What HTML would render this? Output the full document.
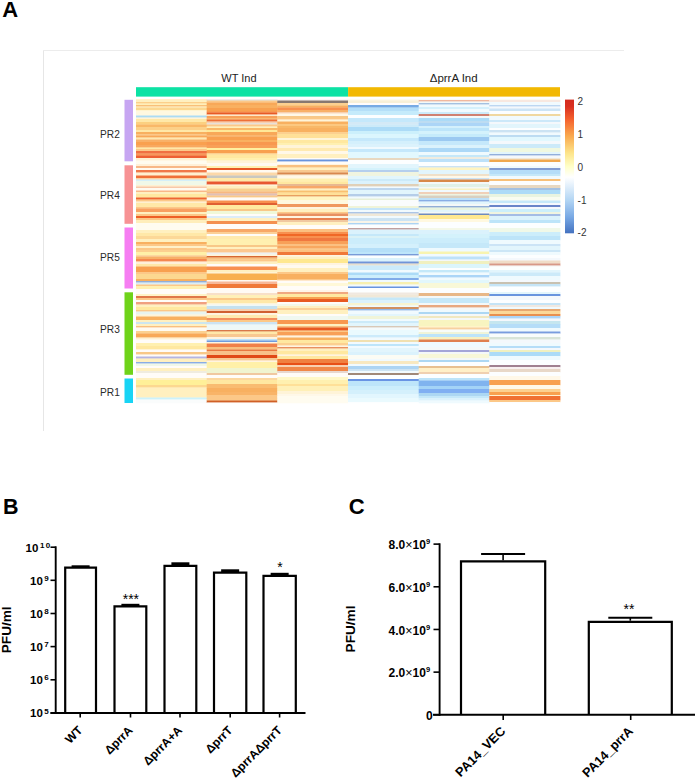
<!DOCTYPE html>
<html><head><meta charset="utf-8"><style>
html,body{margin:0;padding:0;background:#fff;}
svg{display:block;font-family:"Liberation Sans", sans-serif;}
</style></head><body>
<svg width="696" height="780" viewBox="0 0 696 780">
<text x="2.3" y="16.8" font-size="22" font-weight="bold">A</text>
<text x="3" y="514.2" font-size="21.5" font-weight="bold">B</text>
<text x="348.8" y="514.3" font-size="22" font-weight="bold">C</text>
<line x1="43.5" y1="50" x2="43.5" y2="431" stroke="#e6e6e6" stroke-width="1"/>
<line x1="43" y1="50.5" x2="624" y2="50.5" stroke="#ececec" stroke-width="1"/>
<rect x="136" y="87.2" width="212.1" height="9.4" fill="#0ce2a4"/>
<rect x="348.1" y="87.2" width="211.9" height="9.4" fill="#f2b802"/>
<text x="239" y="82.3" text-anchor="middle" font-size="11" fill="#222">WT Ind</text>
<text x="453.7" y="81.8" text-anchor="middle" font-size="11.5" fill="#222">ΔprrA Ind</text>
<rect x="124.5" y="99.8" width="8.5" height="61.500000000000014" fill="#c7a6f2"/>
<text x="100" y="138.2" font-size="11" fill="#2a2a2a" textLength="19.8" lengthAdjust="spacingAndGlyphs">PR2</text>
<rect x="124.5" y="165.3" width="8.5" height="58.5" fill="#f79294"/>
<text x="100" y="199.2" font-size="11" fill="#2a2a2a" textLength="19.8" lengthAdjust="spacingAndGlyphs">PR4</text>
<rect x="124.5" y="227.5" width="8.5" height="61.0" fill="#f67ef2"/>
<text x="100" y="260.5" font-size="11" fill="#2a2a2a" textLength="19.8" lengthAdjust="spacingAndGlyphs">PR5</text>
<rect x="124.5" y="292.3" width="8.5" height="82.5" fill="#6fd31a"/>
<text x="100" y="332.7" font-size="11" fill="#2a2a2a" textLength="19.8" lengthAdjust="spacingAndGlyphs">PR3</text>
<rect x="124.5" y="378.5" width="8.5" height="24.5" fill="#18d4f5"/>
<text x="100" y="395.6" font-size="11" fill="#2a2a2a" textLength="19.8" lengthAdjust="spacingAndGlyphs">PR1</text>
<defs><filter id="bl" x="0" y="-0.02" width="1" height="1.04"><feGaussianBlur stdDeviation="0 0.6"/></filter></defs>
<g filter="url(#bl)">
<rect x="136" y="99.2" width="71.1" height="3.099999999999997" fill="#fff0c0"/>
<rect x="136" y="102.0" width="71.1" height="1.8" fill="#fcd08a"/>
<rect x="136" y="103.5" width="71.1" height="1.8" fill="#ffefb8"/>
<rect x="136" y="105.0" width="71.1" height="1.8" fill="#f9c078"/>
<rect x="136" y="106.5" width="71.1" height="1.3" fill="#fff0c0"/>
<rect x="136" y="107.5" width="71.1" height="2.8" fill="#fcd890"/>
<rect x="136" y="110.0" width="71.1" height="1.3" fill="#fff4d0"/>
<rect x="136" y="111.0" width="71.1" height="4.8" fill="#fff8e0"/>
<rect x="136" y="115.5" width="71.1" height="2.3" fill="#acdcf3"/>
<rect x="136" y="117.5" width="71.1" height="1.8" fill="#fff4d8"/>
<rect x="136" y="119.0" width="71.1" height="3.3" fill="#ffe8a8"/>
<rect x="136" y="122.0" width="71.1" height="2.8" fill="#fcd080"/>
<rect x="136" y="124.5" width="71.1" height="2.8" fill="#f9b868"/>
<rect x="136" y="127.0" width="71.1" height="3.3" fill="#fcd088"/>
<rect x="136" y="130.0" width="71.1" height="2.3" fill="#ffe8a8"/>
<rect x="136" y="132.0" width="71.1" height="2.3" fill="#f8b060"/>
<rect x="136" y="134.0" width="71.1" height="1.8" fill="#fcc888"/>
<rect x="136" y="135.5" width="71.1" height="2.3" fill="#f8a858"/>
<rect x="136" y="137.5" width="71.1" height="2.3" fill="#ffe8b0"/>
<rect x="136" y="139.5" width="71.1" height="2.8" fill="#f8b068"/>
<rect x="136" y="142.0" width="71.1" height="3.3" fill="#f9a050"/>
<rect x="136" y="145.0" width="71.1" height="2.8" fill="#f8a860"/>
<rect x="136" y="147.5" width="71.1" height="1.8" fill="#ffe8a8"/>
<rect x="136" y="149.0" width="71.1" height="2.3" fill="#fcc888"/>
<rect x="136" y="151.0" width="71.1" height="2.8" fill="#f07040"/>
<rect x="136" y="153.5" width="71.1" height="2.3" fill="#f89858"/>
<rect x="136" y="155.5" width="71.1" height="2.8" fill="#ee6030"/>
<rect x="136" y="158.0" width="71.1" height="2.8" fill="#fff0d0"/>
<rect x="136" y="160.5" width="71.1" height="3.8" fill="#fffcf0"/>
<rect x="136" y="164.0" width="71.1" height="2.3" fill="#fff0d8"/>
<rect x="136" y="166.0" width="71.1" height="2.3" fill="#f8b888"/>
<rect x="136" y="168.0" width="71.1" height="2.3" fill="#fffaf0"/>
<rect x="136" y="170.0" width="71.1" height="2.8" fill="#f07848"/>
<rect x="136" y="172.5" width="71.1" height="3.3" fill="#fff0d0"/>
<rect x="136" y="175.5" width="71.1" height="2.8" fill="#f07038"/>
<rect x="136" y="178.0" width="71.1" height="1.8" fill="#fcd0a0"/>
<rect x="136" y="179.5" width="71.1" height="1.8" fill="#d4eff9"/>
<rect x="136" y="181.0" width="71.1" height="4.3" fill="#f0f8e8"/>
<rect x="136" y="185.0" width="71.1" height="1.8" fill="#fff0d0"/>
<rect x="136" y="186.5" width="71.1" height="1.8" fill="#f8c8a8"/>
<rect x="136" y="188.0" width="71.1" height="2.8" fill="#fffaf0"/>
<rect x="136" y="190.5" width="71.1" height="1.8" fill="#f9b888"/>
<rect x="136" y="192.0" width="71.1" height="2.3" fill="#fff0c0"/>
<rect x="136" y="194.0" width="71.1" height="3.8" fill="#ffe8a0"/>
<rect x="136" y="197.5" width="71.1" height="2.3" fill="#ee6630"/>
<rect x="136" y="199.5" width="71.1" height="2.3" fill="#fcc888"/>
<rect x="136" y="201.5" width="71.1" height="1.8" fill="#fff0d0"/>
<rect x="136" y="203.0" width="71.1" height="4.3" fill="#ffe8a8"/>
<rect x="136" y="207.0" width="71.1" height="1.8" fill="#fcc888"/>
<rect x="136" y="208.5" width="71.1" height="3.8" fill="#f8a060"/>
<rect x="136" y="212.0" width="71.1" height="2.3" fill="#fff0c0"/>
<rect x="136" y="214.0" width="71.1" height="2.3" fill="#fcc888"/>
<rect x="136" y="216.0" width="71.1" height="2.3" fill="#ee6028"/>
<rect x="136" y="218.0" width="71.1" height="2.3" fill="#fcc888"/>
<rect x="136" y="220.0" width="71.1" height="3.3" fill="#ffeebb"/>
<rect x="136" y="223.0" width="71.1" height="7.3" fill="#fffcf0"/>
<rect x="136" y="230.0" width="71.1" height="3.3" fill="#fff0c0"/>
<rect x="136" y="233.0" width="71.1" height="3.3" fill="#ffe8a8"/>
<rect x="136" y="236.0" width="71.1" height="3.3" fill="#fcd898"/>
<rect x="136" y="239.0" width="71.1" height="3.3" fill="#fff0c0"/>
<rect x="136" y="242.0" width="71.1" height="2.3" fill="#f8b060"/>
<rect x="136" y="244.0" width="71.1" height="2.3" fill="#fcc888"/>
<rect x="136" y="246.0" width="71.1" height="2.3" fill="#fff0c8"/>
<rect x="136" y="248.0" width="71.1" height="2.3" fill="#fcc888"/>
<rect x="136" y="250.0" width="71.1" height="2.3" fill="#fcd090"/>
<rect x="136" y="252.0" width="71.1" height="3.3" fill="#fff0a8"/>
<rect x="136" y="255.0" width="71.1" height="1.8" fill="#fcd8a0"/>
<rect x="136" y="256.5" width="71.1" height="2.8" fill="#f8b068"/>
<rect x="136" y="259.0" width="71.1" height="2.8" fill="#f48850"/>
<rect x="136" y="261.5" width="71.1" height="2.8" fill="#fff0d8"/>
<rect x="136" y="264.0" width="71.1" height="2.8" fill="#ffe8a8"/>
<rect x="136" y="266.5" width="71.1" height="5.8" fill="#f8a050"/>
<rect x="136" y="272.0" width="71.1" height="2.3" fill="#fcc888"/>
<rect x="136" y="274.0" width="71.1" height="5.3" fill="#fcd890"/>
<rect x="136" y="279.0" width="71.1" height="2.3" fill="#f8b060"/>
<rect x="136" y="281.0" width="71.1" height="1.8" fill="#92aed7"/>
<rect x="136" y="282.5" width="71.1" height="2.3" fill="#dbeef6"/>
<rect x="136" y="284.5" width="71.1" height="1.8" fill="#fcc888"/>
<rect x="136" y="286.0" width="71.1" height="3.3" fill="#fff0b0"/>
<rect x="136" y="289.0" width="71.1" height="5.3" fill="#fffcf8"/>
<rect x="136" y="294.0" width="71.1" height="2.3" fill="#fff4c8"/>
<rect x="136" y="296.0" width="71.1" height="2.3" fill="#e07848"/>
<rect x="136" y="298.0" width="71.1" height="2.3" fill="#fcc888"/>
<rect x="136" y="300.0" width="71.1" height="2.3" fill="#fffcf8"/>
<rect x="136" y="302.0" width="71.1" height="2.8" fill="#f0a080"/>
<rect x="136" y="304.5" width="71.1" height="2.8" fill="#fff0c0"/>
<rect x="136" y="307.0" width="71.1" height="3.3" fill="#ffe8a0"/>
<rect x="136" y="310.0" width="71.1" height="1.8" fill="#fcc888"/>
<rect x="136" y="311.5" width="71.1" height="3.3" fill="#e8f4f0"/>
<rect x="136" y="314.5" width="71.1" height="2.3" fill="#fff4d8"/>
<rect x="136" y="316.5" width="71.1" height="3.8" fill="#f8b060"/>
<rect x="136" y="320.0" width="71.1" height="2.3" fill="#fff0c0"/>
<rect x="136" y="322.0" width="71.1" height="2.3" fill="#cce6ef"/>
<rect x="136" y="324.0" width="71.1" height="2.3" fill="#fff0c0"/>
<rect x="136" y="326.0" width="71.1" height="1.8" fill="#f8c080"/>
<rect x="136" y="327.5" width="71.1" height="3.8" fill="#fffaf0"/>
<rect x="136" y="331.0" width="71.1" height="2.8" fill="#fcd090"/>
<rect x="136" y="333.5" width="71.1" height="4.3" fill="#f8a858"/>
<rect x="136" y="337.5" width="71.1" height="2.3" fill="#fff0d0"/>
<rect x="136" y="339.5" width="71.1" height="3.8" fill="#fffcf8"/>
<rect x="136" y="343.0" width="71.1" height="3.3" fill="#fff0b0"/>
<rect x="136" y="346.0" width="71.1" height="3.8" fill="#ffe8a0"/>
<rect x="136" y="349.5" width="71.1" height="2.8" fill="#fffcf8"/>
<rect x="136" y="352.0" width="71.1" height="2.8" fill="#f8c888"/>
<rect x="136" y="354.5" width="71.1" height="2.3" fill="#fffcf8"/>
<rect x="136" y="356.5" width="71.1" height="2.3" fill="#b5b5e1"/>
<rect x="136" y="358.5" width="71.1" height="3.8" fill="#fff0c0"/>
<rect x="136" y="362.0" width="71.1" height="1.8" fill="#89ade5"/>
<rect x="136" y="363.5" width="71.1" height="2.8" fill="#f0f8e8"/>
<rect x="136" y="366.0" width="71.1" height="2.3" fill="#fffcf8"/>
<rect x="136" y="368.0" width="71.1" height="3.3" fill="#fff0c0"/>
<rect x="136" y="371.0" width="71.1" height="2.3" fill="#f0ece0"/>
<rect x="136" y="373.0" width="71.1" height="5.3" fill="#fffcf8"/>
<rect x="136" y="378.0" width="71.1" height="2.3" fill="#fff0c0"/>
<rect x="136" y="380.0" width="71.1" height="5.3" fill="#fff098"/>
<rect x="136" y="385.0" width="71.1" height="2.8" fill="#fcd890"/>
<rect x="136" y="387.5" width="71.1" height="3.8" fill="#fff0c0"/>
<rect x="136" y="391.0" width="71.1" height="6.8" fill="#fff0c0"/>
<rect x="136" y="397.5" width="71.1" height="2.3" fill="#ccf2fb"/>
<rect x="136" y="399.5" width="71.1" height="3.8" fill="#fafcfc"/>
<rect x="206.7" y="99.5" width="71.00000000000003" height="1.3" fill="#d8e0e0"/>
<rect x="206.7" y="100.5" width="71.00000000000003" height="2.3" fill="#fcc888"/>
<rect x="206.7" y="102.5" width="71.00000000000003" height="2.8" fill="#f8a858"/>
<rect x="206.7" y="105.0" width="71.00000000000003" height="3.3" fill="#f9b060"/>
<rect x="206.7" y="108.0" width="71.00000000000003" height="3.3" fill="#f8a050"/>
<rect x="206.7" y="111.0" width="71.00000000000003" height="1.8" fill="#f89850"/>
<rect x="206.7" y="112.5" width="71.00000000000003" height="2.3" fill="#e85a28"/>
<rect x="206.7" y="114.5" width="71.00000000000003" height="1.8" fill="#fde8c8"/>
<rect x="206.7" y="116.0" width="71.00000000000003" height="2.3" fill="#f8a058"/>
<rect x="206.7" y="118.0" width="71.00000000000003" height="1.8" fill="#f9b870"/>
<rect x="206.7" y="119.5" width="71.00000000000003" height="2.3" fill="#ee7038"/>
<rect x="206.7" y="121.5" width="71.00000000000003" height="1.8" fill="#f8d0b0"/>
<rect x="206.7" y="123.0" width="71.00000000000003" height="1.8" fill="#e8e0d8"/>
<rect x="206.7" y="124.5" width="71.00000000000003" height="2.3" fill="#fcc888"/>
<rect x="206.7" y="126.5" width="71.00000000000003" height="1.8" fill="#fff0b8"/>
<rect x="206.7" y="128.0" width="71.00000000000003" height="2.3" fill="#f9b868"/>
<rect x="206.7" y="130.0" width="71.00000000000003" height="2.3" fill="#ffe898"/>
<rect x="206.7" y="132.0" width="71.00000000000003" height="3.3" fill="#f8a858"/>
<rect x="206.7" y="135.0" width="71.00000000000003" height="1.8" fill="#f9b870"/>
<rect x="206.7" y="136.5" width="71.00000000000003" height="3.8" fill="#f8a050"/>
<rect x="206.7" y="140.0" width="71.00000000000003" height="2.3" fill="#f9b060"/>
<rect x="206.7" y="142.0" width="71.00000000000003" height="3.3" fill="#f89850"/>
<rect x="206.7" y="145.0" width="71.00000000000003" height="3.3" fill="#f8a058"/>
<rect x="206.7" y="148.0" width="71.00000000000003" height="2.3" fill="#fff0a0"/>
<rect x="206.7" y="150.0" width="71.00000000000003" height="3.3" fill="#f8a050"/>
<rect x="206.7" y="153.0" width="71.00000000000003" height="1.8" fill="#fcd090"/>
<rect x="206.7" y="154.5" width="71.00000000000003" height="3.8" fill="#ffe8a0"/>
<rect x="206.7" y="158.0" width="71.00000000000003" height="2.8" fill="#fff0b0"/>
<rect x="206.7" y="160.5" width="71.00000000000003" height="2.8" fill="#fff4d8"/>
<rect x="206.7" y="163.0" width="71.00000000000003" height="3.3" fill="#fffaf0"/>
<rect x="206.7" y="166.0" width="71.00000000000003" height="2.3" fill="#fff0b0"/>
<rect x="206.7" y="168.0" width="71.00000000000003" height="2.3" fill="#e85828"/>
<rect x="206.7" y="170.0" width="71.00000000000003" height="2.8" fill="#fffaf0"/>
<rect x="206.7" y="172.5" width="71.00000000000003" height="3.3" fill="#fcd8a8"/>
<rect x="206.7" y="175.5" width="71.00000000000003" height="2.8" fill="#c8c8c0"/>
<rect x="206.7" y="178.0" width="71.00000000000003" height="3.8" fill="#ffe8a8"/>
<rect x="206.7" y="181.5" width="71.00000000000003" height="3.3" fill="#e85830"/>
<rect x="206.7" y="184.5" width="71.00000000000003" height="1.8" fill="#fff4d8"/>
<rect x="206.7" y="186.0" width="71.00000000000003" height="2.8" fill="#fff0c0"/>
<rect x="206.7" y="188.5" width="71.00000000000003" height="3.3" fill="#f8d090"/>
<rect x="206.7" y="191.5" width="71.00000000000003" height="2.3" fill="#f8b880"/>
<rect x="206.7" y="193.5" width="71.00000000000003" height="2.3" fill="#e0c0b8"/>
<rect x="206.7" y="195.5" width="71.00000000000003" height="2.3" fill="#f9c888"/>
<rect x="206.7" y="197.5" width="71.00000000000003" height="3.3" fill="#fffcf8"/>
<rect x="206.7" y="200.5" width="71.00000000000003" height="2.8" fill="#f89050"/>
<rect x="206.7" y="203.0" width="71.00000000000003" height="2.3" fill="#e06030"/>
<rect x="206.7" y="205.0" width="71.00000000000003" height="4.3" fill="#ffeaa0"/>
<rect x="206.7" y="209.0" width="71.00000000000003" height="2.3" fill="#f8c888"/>
<rect x="206.7" y="211.0" width="71.00000000000003" height="3.3" fill="#f0f8d8"/>
<rect x="206.7" y="214.0" width="71.00000000000003" height="2.3" fill="#fffcf8"/>
<rect x="206.7" y="216.0" width="71.00000000000003" height="2.3" fill="#dbecf9"/>
<rect x="206.7" y="218.0" width="71.00000000000003" height="3.3" fill="#fff0c0"/>
<rect x="206.7" y="221.0" width="71.00000000000003" height="3.3" fill="#f49050"/>
<rect x="206.7" y="224.0" width="71.00000000000003" height="5.3" fill="#fffcf8"/>
<rect x="206.7" y="229.0" width="71.00000000000003" height="3.3" fill="#f8a868"/>
<rect x="206.7" y="232.0" width="71.00000000000003" height="2.3" fill="#fcd098"/>
<rect x="206.7" y="234.0" width="71.00000000000003" height="2.3" fill="#fffcf8"/>
<rect x="206.7" y="236.0" width="71.00000000000003" height="3.3" fill="#ffeab0"/>
<rect x="206.7" y="239.0" width="71.00000000000003" height="6.3" fill="#fff0b0"/>
<rect x="206.7" y="245.0" width="71.00000000000003" height="2.3" fill="#f8c888"/>
<rect x="206.7" y="247.0" width="71.00000000000003" height="2.3" fill="#fff0c0"/>
<rect x="206.7" y="249.0" width="71.00000000000003" height="3.8" fill="#fcc890"/>
<rect x="206.7" y="252.5" width="71.00000000000003" height="2.3" fill="#eef0f0"/>
<rect x="206.7" y="254.5" width="71.00000000000003" height="1.8" fill="#fff4d8"/>
<rect x="206.7" y="256.0" width="71.00000000000003" height="1.8" fill="#d86830"/>
<rect x="206.7" y="257.5" width="71.00000000000003" height="2.3" fill="#f8c080"/>
<rect x="206.7" y="259.5" width="71.00000000000003" height="2.3" fill="#fcc888"/>
<rect x="206.7" y="261.5" width="71.00000000000003" height="2.8" fill="#fff0c0"/>
<rect x="206.7" y="264.0" width="71.00000000000003" height="2.8" fill="#fffcf8"/>
<rect x="206.7" y="266.5" width="71.00000000000003" height="3.8" fill="#f89050"/>
<rect x="206.7" y="270.0" width="71.00000000000003" height="2.8" fill="#fff0c0"/>
<rect x="206.7" y="272.5" width="71.00000000000003" height="1.3" fill="#fff4d8"/>
<rect x="206.7" y="273.5" width="71.00000000000003" height="6.8" fill="#f8b050"/>
<rect x="206.7" y="280.0" width="71.00000000000003" height="1.8" fill="#fff8f0"/>
<rect x="206.7" y="281.5" width="71.00000000000003" height="2.8" fill="#f8b898"/>
<rect x="206.7" y="284.0" width="71.00000000000003" height="4.3" fill="#f07838"/>
<rect x="206.7" y="288.0" width="71.00000000000003" height="5.3" fill="#fffaf4"/>
<rect x="206.7" y="293.0" width="71.00000000000003" height="2.3" fill="#f8e0c8"/>
<rect x="206.7" y="295.0" width="71.00000000000003" height="3.3" fill="#fff0b8"/>
<rect x="206.7" y="298.0" width="71.00000000000003" height="2.3" fill="#fcc888"/>
<rect x="206.7" y="300.0" width="71.00000000000003" height="3.3" fill="#ffe8a8"/>
<rect x="206.7" y="303.0" width="71.00000000000003" height="1.8" fill="#fff4d8"/>
<rect x="206.7" y="304.5" width="71.00000000000003" height="1.8" fill="#f0f8f8"/>
<rect x="206.7" y="306.0" width="71.00000000000003" height="3.3" fill="#c5e1ef"/>
<rect x="206.7" y="309.0" width="71.00000000000003" height="2.3" fill="#f8d0b0"/>
<rect x="206.7" y="311.0" width="71.00000000000003" height="2.3" fill="#d06030"/>
<rect x="206.7" y="313.0" width="71.00000000000003" height="2.3" fill="#fff4e0"/>
<rect x="206.7" y="315.0" width="71.00000000000003" height="3.3" fill="#ffeab0"/>
<rect x="206.7" y="318.0" width="71.00000000000003" height="2.3" fill="#f49060"/>
<rect x="206.7" y="320.0" width="71.00000000000003" height="2.3" fill="#fcc888"/>
<rect x="206.7" y="322.0" width="71.00000000000003" height="2.8" fill="#cce3f3"/>
<rect x="206.7" y="324.5" width="71.00000000000003" height="5.8" fill="#eef8f8"/>
<rect x="206.7" y="330.0" width="71.00000000000003" height="1.8" fill="#d87848"/>
<rect x="206.7" y="331.5" width="71.00000000000003" height="2.8" fill="#ffe8a8"/>
<rect x="206.7" y="334.0" width="71.00000000000003" height="3.3" fill="#f8c890"/>
<rect x="206.7" y="337.0" width="71.00000000000003" height="2.3" fill="#fff4e0"/>
<rect x="206.7" y="339.0" width="71.00000000000003" height="1.8" fill="#bde4f9"/>
<rect x="206.7" y="340.5" width="71.00000000000003" height="1.8" fill="#709cde"/>
<rect x="206.7" y="342.0" width="71.00000000000003" height="1.8" fill="#fff4e0"/>
<rect x="206.7" y="343.5" width="71.00000000000003" height="3.8" fill="#f08048"/>
<rect x="206.7" y="347.0" width="71.00000000000003" height="2.8" fill="#f8c080"/>
<rect x="206.7" y="349.5" width="71.00000000000003" height="1.8" fill="#e87840"/>
<rect x="206.7" y="351.0" width="71.00000000000003" height="4.3" fill="#f8c088"/>
<rect x="206.7" y="355.0" width="71.00000000000003" height="3.3" fill="#e04818"/>
<rect x="206.7" y="358.0" width="71.00000000000003" height="2.8" fill="#f8c890"/>
<rect x="206.7" y="360.5" width="71.00000000000003" height="1.8" fill="#fff4e0"/>
<rect x="206.7" y="362.0" width="71.00000000000003" height="6.3" fill="#fff0a8"/>
<rect x="206.7" y="368.0" width="71.00000000000003" height="5.3" fill="#f0f4d0"/>
<rect x="206.7" y="373.0" width="71.00000000000003" height="2.3" fill="#f0c8a0"/>
<rect x="206.7" y="375.0" width="71.00000000000003" height="3.3" fill="#fffcf8"/>
<rect x="206.7" y="378.0" width="71.00000000000003" height="2.3" fill="#fcd8a0"/>
<rect x="206.7" y="380.0" width="71.00000000000003" height="4.3" fill="#ffe8a0"/>
<rect x="206.7" y="384.0" width="71.00000000000003" height="4.3" fill="#f9bc70"/>
<rect x="206.7" y="388.0" width="71.00000000000003" height="4.3" fill="#f8b060"/>
<rect x="206.7" y="392.0" width="71.00000000000003" height="3.3" fill="#f9b468"/>
<rect x="206.7" y="395.0" width="71.00000000000003" height="3.3" fill="#fcc888"/>
<rect x="206.7" y="398.0" width="71.00000000000003" height="2.8" fill="#fcc888"/>
<rect x="206.7" y="400.5" width="71.00000000000003" height="2.3" fill="#d06028"/>
<rect x="206.7" y="402.5" width="71.00000000000003" height="0.8" fill="#fffcf8"/>
<rect x="277.3" y="99.5" width="71.1" height="1.3" fill="#f8f0f0"/>
<rect x="277.3" y="100.5" width="71.1" height="2.8" fill="#887870"/>
<rect x="277.3" y="103.0" width="71.1" height="2.8" fill="#fcd090"/>
<rect x="277.3" y="105.5" width="71.1" height="2.3" fill="#f8b060"/>
<rect x="277.3" y="107.5" width="71.1" height="2.8" fill="#f89050"/>
<rect x="277.3" y="110.0" width="71.1" height="2.3" fill="#f8b068"/>
<rect x="277.3" y="112.0" width="71.1" height="1.8" fill="#f8d0b0"/>
<rect x="277.3" y="113.5" width="71.1" height="2.8" fill="#fff8e8"/>
<rect x="277.3" y="116.0" width="71.1" height="2.3" fill="#f8c888"/>
<rect x="277.3" y="118.0" width="71.1" height="1.8" fill="#fcc888"/>
<rect x="277.3" y="119.5" width="71.1" height="2.3" fill="#fff4d8"/>
<rect x="277.3" y="121.5" width="71.1" height="2.8" fill="#f8b060"/>
<rect x="277.3" y="124.0" width="71.1" height="2.3" fill="#fcc880"/>
<rect x="277.3" y="126.0" width="71.1" height="2.3" fill="#f8b868"/>
<rect x="277.3" y="128.0" width="71.1" height="4.3" fill="#f8b060"/>
<rect x="277.3" y="132.0" width="71.1" height="2.3" fill="#fcd090"/>
<rect x="277.3" y="134.0" width="71.1" height="4.3" fill="#ffe098"/>
<rect x="277.3" y="138.0" width="71.1" height="2.3" fill="#fff4d8"/>
<rect x="277.3" y="140.0" width="71.1" height="3.3" fill="#ffe8a0"/>
<rect x="277.3" y="143.0" width="71.1" height="2.3" fill="#fff0b0"/>
<rect x="277.3" y="145.0" width="71.1" height="3.3" fill="#fff4d8"/>
<rect x="277.3" y="148.0" width="71.1" height="3.3" fill="#ffeab0"/>
<rect x="277.3" y="151.0" width="71.1" height="3.3" fill="#fff8e8"/>
<rect x="277.3" y="154.0" width="71.1" height="4.3" fill="#fff0c0"/>
<rect x="277.3" y="158.0" width="71.1" height="1.8" fill="#fffcf8"/>
<rect x="277.3" y="159.5" width="71.1" height="2.3" fill="#6894de"/>
<rect x="277.3" y="161.5" width="71.1" height="2.8" fill="#fffcf8"/>
<rect x="277.3" y="164.0" width="71.1" height="1.3" fill="#fff4e0"/>
<rect x="277.3" y="165.0" width="71.1" height="2.8" fill="#f8c080"/>
<rect x="277.3" y="167.5" width="71.1" height="2.8" fill="#fff0c0"/>
<rect x="277.3" y="170.0" width="71.1" height="2.8" fill="#f8c890"/>
<rect x="277.3" y="172.5" width="71.1" height="2.3" fill="#d88850"/>
<rect x="277.3" y="174.5" width="71.1" height="1.3" fill="#f8e0c0"/>
<rect x="277.3" y="175.5" width="71.1" height="3.3" fill="#fff8e8"/>
<rect x="277.3" y="178.5" width="71.1" height="3.3" fill="#fff0b0"/>
<rect x="277.3" y="181.5" width="71.1" height="2.8" fill="#ffe8a0"/>
<rect x="277.3" y="184.0" width="71.1" height="2.3" fill="#e8b890"/>
<rect x="277.3" y="186.0" width="71.1" height="2.8" fill="#f8a868"/>
<rect x="277.3" y="188.5" width="71.1" height="2.3" fill="#fff0c0"/>
<rect x="277.3" y="190.5" width="71.1" height="2.3" fill="#f8c070"/>
<rect x="277.3" y="192.5" width="71.1" height="2.8" fill="#ffe098"/>
<rect x="277.3" y="195.0" width="71.1" height="1.8" fill="#e8a060"/>
<rect x="277.3" y="196.5" width="71.1" height="3.8" fill="#fff4c0"/>
<rect x="277.3" y="200.0" width="71.1" height="4.3" fill="#fff8e0"/>
<rect x="277.3" y="204.0" width="71.1" height="3.3" fill="#f09860"/>
<rect x="277.3" y="207.0" width="71.1" height="2.3" fill="#fff4e0"/>
<rect x="277.3" y="209.0" width="71.1" height="3.3" fill="#fff0c0"/>
<rect x="277.3" y="212.0" width="71.1" height="1.8" fill="#fcc888"/>
<rect x="277.3" y="213.5" width="71.1" height="2.8" fill="#e89060"/>
<rect x="277.3" y="216.0" width="71.1" height="2.3" fill="#fff4e0"/>
<rect x="277.3" y="218.0" width="71.1" height="2.3" fill="#e88050"/>
<rect x="277.3" y="220.0" width="71.1" height="2.3" fill="#f0c8a0"/>
<rect x="277.3" y="222.0" width="71.1" height="3.3" fill="#fff0c0"/>
<rect x="277.3" y="225.0" width="71.1" height="4.3" fill="#fffcf8"/>
<rect x="277.3" y="229.0" width="71.1" height="3.3" fill="#fcc080"/>
<rect x="277.3" y="232.0" width="71.1" height="2.3" fill="#f89050"/>
<rect x="277.3" y="234.0" width="71.1" height="2.3" fill="#f06828"/>
<rect x="277.3" y="236.0" width="71.1" height="2.3" fill="#f89050"/>
<rect x="277.3" y="238.0" width="71.1" height="3.3" fill="#f07840"/>
<rect x="277.3" y="241.0" width="71.1" height="3.3" fill="#f8a058"/>
<rect x="277.3" y="244.0" width="71.1" height="2.3" fill="#fcc080"/>
<rect x="277.3" y="246.0" width="71.1" height="2.8" fill="#f8a860"/>
<rect x="277.3" y="248.5" width="71.1" height="1.8" fill="#fcc888"/>
<rect x="277.3" y="250.0" width="71.1" height="2.3" fill="#fcc080"/>
<rect x="277.3" y="252.0" width="71.1" height="3.3" fill="#f07838"/>
<rect x="277.3" y="255.0" width="71.1" height="1.8" fill="#fff4e0"/>
<rect x="277.3" y="256.5" width="71.1" height="2.8" fill="#fff0c0"/>
<rect x="277.3" y="259.0" width="71.1" height="4.3" fill="#ffe890"/>
<rect x="277.3" y="263.0" width="71.1" height="2.3" fill="#fff4e0"/>
<rect x="277.3" y="265.0" width="71.1" height="3.3" fill="#fffaf0"/>
<rect x="277.3" y="268.0" width="71.1" height="4.3" fill="#fff0c0"/>
<rect x="277.3" y="272.0" width="71.1" height="2.3" fill="#fcc888"/>
<rect x="277.3" y="274.0" width="71.1" height="5.3" fill="#f8b060"/>
<rect x="277.3" y="279.0" width="71.1" height="1.8" fill="#fcc888"/>
<rect x="277.3" y="280.5" width="71.1" height="2.8" fill="#fffcf8"/>
<rect x="277.3" y="283.0" width="71.1" height="3.3" fill="#fff8d8"/>
<rect x="277.3" y="286.0" width="71.1" height="4.3" fill="#fffcf8"/>
<rect x="277.3" y="290.0" width="71.1" height="2.3" fill="#fff4e8"/>
<rect x="277.3" y="292.0" width="71.1" height="2.3" fill="#f0a880"/>
<rect x="277.3" y="294.0" width="71.1" height="3.3" fill="#ffe8a0"/>
<rect x="277.3" y="297.0" width="71.1" height="2.3" fill="#f8a050"/>
<rect x="277.3" y="299.0" width="71.1" height="3.3" fill="#e85a20"/>
<rect x="277.3" y="302.0" width="71.1" height="2.3" fill="#fffcf8"/>
<rect x="277.3" y="304.0" width="71.1" height="2.3" fill="#f4f8e8"/>
<rect x="277.3" y="306.0" width="71.1" height="2.3" fill="#fff0c0"/>
<rect x="277.3" y="308.0" width="71.1" height="2.3" fill="#fcd098"/>
<rect x="277.3" y="310.0" width="71.1" height="4.3" fill="#fff0c0"/>
<rect x="277.3" y="314.0" width="71.1" height="2.3" fill="#fffcf8"/>
<rect x="277.3" y="316.0" width="71.1" height="4.3" fill="#f0f8f0"/>
<rect x="277.3" y="320.0" width="71.1" height="4.3" fill="#f89850"/>
<rect x="277.3" y="324.0" width="71.1" height="2.3" fill="#fff0c0"/>
<rect x="277.3" y="326.0" width="71.1" height="1.8" fill="#f8c080"/>
<rect x="277.3" y="327.5" width="71.1" height="3.3" fill="#e85a20"/>
<rect x="277.3" y="330.5" width="71.1" height="1.8" fill="#fcc888"/>
<rect x="277.3" y="332.0" width="71.1" height="3.8" fill="#f8a058"/>
<rect x="277.3" y="335.5" width="71.1" height="2.3" fill="#fff4e0"/>
<rect x="277.3" y="337.5" width="71.1" height="2.8" fill="#f8b060"/>
<rect x="277.3" y="340.0" width="71.1" height="3.3" fill="#ffe8a0"/>
<rect x="277.3" y="343.0" width="71.1" height="2.8" fill="#fcd090"/>
<rect x="277.3" y="345.5" width="71.1" height="1.8" fill="#fff4e0"/>
<rect x="277.3" y="347.0" width="71.1" height="1.8" fill="#e89060"/>
<rect x="277.3" y="348.5" width="71.1" height="2.8" fill="#fff0c0"/>
<rect x="277.3" y="351.0" width="71.1" height="3.8" fill="#ffe8a0"/>
<rect x="277.3" y="354.5" width="71.1" height="1.8" fill="#fff4e0"/>
<rect x="277.3" y="356.0" width="71.1" height="3.3" fill="#ffe8a0"/>
<rect x="277.3" y="359.0" width="71.1" height="4.3" fill="#f08040"/>
<rect x="277.3" y="363.0" width="71.1" height="2.3" fill="#e85018"/>
<rect x="277.3" y="365.0" width="71.1" height="2.3" fill="#f8d0b0"/>
<rect x="277.3" y="367.0" width="71.1" height="4.3" fill="#f08848"/>
<rect x="277.3" y="371.0" width="71.1" height="2.3" fill="#e8d8d0"/>
<rect x="277.3" y="373.0" width="71.1" height="4.3" fill="#fffcf8"/>
<rect x="277.3" y="377.0" width="71.1" height="3.3" fill="#fff8c8"/>
<rect x="277.3" y="380.0" width="71.1" height="4.3" fill="#fff0b0"/>
<rect x="277.3" y="384.0" width="71.1" height="2.3" fill="#ffe098"/>
<rect x="277.3" y="386.0" width="71.1" height="5.3" fill="#fff0b8"/>
<rect x="277.3" y="391.0" width="71.1" height="3.3" fill="#fff4d8"/>
<rect x="277.3" y="394.0" width="71.1" height="2.3" fill="#fff8e8"/>
<rect x="277.3" y="396.0" width="71.1" height="7.3" fill="#fffcf0"/>
<rect x="348" y="99.5" width="71.1" height="1.3" fill="#fff8e0"/>
<rect x="348" y="100.5" width="71.1" height="2.8" fill="#f8f0d8"/>
<rect x="348" y="103.0" width="71.1" height="2.3" fill="#fffcfc"/>
<rect x="348" y="105.0" width="71.1" height="2.8" fill="#78abe4"/>
<rect x="348" y="107.5" width="71.1" height="3.8" fill="#b5dff8"/>
<rect x="348" y="111.0" width="71.1" height="4.3" fill="#c5ebfb"/>
<rect x="348" y="115.0" width="71.1" height="3.3" fill="#fcfeff"/>
<rect x="348" y="118.0" width="71.1" height="4.3" fill="#c5e8fb"/>
<rect x="348" y="122.0" width="71.1" height="2.8" fill="#d4e9f6"/>
<rect x="348" y="124.5" width="71.1" height="2.8" fill="#cceaf9"/>
<rect x="348" y="127.0" width="71.1" height="4.3" fill="#acdbf7"/>
<rect x="348" y="131.0" width="71.1" height="3.3" fill="#ccf0fc"/>
<rect x="348" y="134.0" width="71.1" height="4.3" fill="#dbf6fe"/>
<rect x="348" y="138.0" width="71.1" height="3.3" fill="#c5e8fb"/>
<rect x="348" y="141.0" width="71.1" height="3.3" fill="#d4f0fc"/>
<rect x="348" y="144.0" width="71.1" height="3.3" fill="#dbf2fc"/>
<rect x="348" y="147.0" width="71.1" height="2.3" fill="#f1fafe"/>
<rect x="348" y="149.0" width="71.1" height="3.3" fill="#c5e8fb"/>
<rect x="348" y="152.0" width="71.1" height="6.3" fill="#e2f8fe"/>
<rect x="348" y="158.0" width="71.1" height="2.3" fill="#e8d8c0"/>
<rect x="348" y="160.0" width="71.1" height="4.3" fill="#fcfeff"/>
<rect x="348" y="164.0" width="71.1" height="4.3" fill="#e2f5fc"/>
<rect x="348" y="168.0" width="71.1" height="2.3" fill="#d4f2fc"/>
<rect x="348" y="170.0" width="71.1" height="2.3" fill="#b5ceed"/>
<rect x="348" y="172.0" width="71.1" height="4.3" fill="#f0f4e0"/>
<rect x="348" y="176.0" width="71.1" height="3.3" fill="#e2f5fc"/>
<rect x="348" y="179.0" width="71.1" height="2.3" fill="#cceaf9"/>
<rect x="348" y="181.0" width="71.1" height="3.3" fill="#dbf2fc"/>
<rect x="348" y="184.0" width="71.1" height="2.8" fill="#e0d0b8"/>
<rect x="348" y="186.5" width="71.1" height="1.8" fill="#f1fafe"/>
<rect x="348" y="188.0" width="71.1" height="2.3" fill="#bdd6ee"/>
<rect x="348" y="190.0" width="71.1" height="4.3" fill="#e2f5fc"/>
<rect x="348" y="194.0" width="71.1" height="2.8" fill="#b5cde9"/>
<rect x="348" y="196.5" width="71.1" height="2.3" fill="#f1fafe"/>
<rect x="348" y="198.5" width="71.1" height="1.8" fill="#e8f0d8"/>
<rect x="348" y="200.0" width="71.1" height="6.3" fill="#fafcfc"/>
<rect x="348" y="206.0" width="71.1" height="2.3" fill="#f0f4d8"/>
<rect x="348" y="208.0" width="71.1" height="2.3" fill="#c5e5f9"/>
<rect x="348" y="210.0" width="71.1" height="2.3" fill="#f1fafe"/>
<rect x="348" y="212.0" width="71.1" height="1.8" fill="#acc5e7"/>
<rect x="348" y="213.5" width="71.1" height="2.8" fill="#f0e8d8"/>
<rect x="348" y="216.0" width="71.1" height="2.3" fill="#f1fafe"/>
<rect x="348" y="218.0" width="71.1" height="3.3" fill="#cce3f3"/>
<rect x="348" y="221.0" width="71.1" height="2.3" fill="#f8f4e8"/>
<rect x="348" y="223.0" width="71.1" height="1.8" fill="#acd4f3"/>
<rect x="348" y="224.5" width="71.1" height="3.8" fill="#fcfeff"/>
<rect x="348" y="228.0" width="71.1" height="1.8" fill="#c0a0a0"/>
<rect x="348" y="229.5" width="71.1" height="4.8" fill="#dbf2fc"/>
<rect x="348" y="234.0" width="71.1" height="2.3" fill="#c5e8f9"/>
<rect x="348" y="236.0" width="71.1" height="2.3" fill="#dbf2f6"/>
<rect x="348" y="238.0" width="71.1" height="6.3" fill="#ccedfb"/>
<rect x="348" y="244.0" width="71.1" height="4.3" fill="#d4f0fc"/>
<rect x="348" y="248.0" width="71.1" height="4.3" fill="#b5dff8"/>
<rect x="348" y="252.0" width="71.1" height="2.3" fill="#bde5fa"/>
<rect x="348" y="254.0" width="71.1" height="1.8" fill="#789bd8"/>
<rect x="348" y="255.5" width="71.1" height="2.8" fill="#fcfeff"/>
<rect x="348" y="258.0" width="71.1" height="3.8" fill="#dbf2fc"/>
<rect x="348" y="261.5" width="71.1" height="2.3" fill="#7094d8"/>
<rect x="348" y="263.5" width="71.1" height="2.3" fill="#e8e0d0"/>
<rect x="348" y="265.5" width="71.1" height="4.8" fill="#ccebfb"/>
<rect x="348" y="270.0" width="71.1" height="2.8" fill="#f1fafe"/>
<rect x="348" y="272.5" width="71.1" height="2.8" fill="#acdbf7"/>
<rect x="348" y="275.0" width="71.1" height="3.3" fill="#cceefc"/>
<rect x="348" y="278.0" width="71.1" height="2.3" fill="#80abe9"/>
<rect x="348" y="280.0" width="71.1" height="2.3" fill="#f1fafe"/>
<rect x="348" y="282.0" width="71.1" height="2.8" fill="#f8f0b0"/>
<rect x="348" y="284.5" width="71.1" height="2.3" fill="#f1fafe"/>
<rect x="348" y="286.5" width="71.1" height="1.8" fill="#6894de"/>
<rect x="348" y="288.0" width="71.1" height="4.8" fill="#fcfeff"/>
<rect x="348" y="292.5" width="71.1" height="2.3" fill="#f0e8e0"/>
<rect x="348" y="294.5" width="71.1" height="3.3" fill="#f0e8d8"/>
<rect x="348" y="297.5" width="71.1" height="2.8" fill="#c5e8f9"/>
<rect x="348" y="300.0" width="71.1" height="3.3" fill="#dbf2fc"/>
<rect x="348" y="303.0" width="71.1" height="2.8" fill="#f8f4d0"/>
<rect x="348" y="305.5" width="71.1" height="1.8" fill="#f1fafe"/>
<rect x="348" y="307.0" width="71.1" height="2.3" fill="#d09060"/>
<rect x="348" y="309.0" width="71.1" height="1.8" fill="#92b7e6"/>
<rect x="348" y="310.5" width="71.1" height="3.8" fill="#f1fafe"/>
<rect x="348" y="314.0" width="71.1" height="2.3" fill="#e2f5fc"/>
<rect x="348" y="316.0" width="71.1" height="3.3" fill="#f0f4d8"/>
<rect x="348" y="319.0" width="71.1" height="2.3" fill="#f1fafe"/>
<rect x="348" y="321.0" width="71.1" height="2.3" fill="#cceaf9"/>
<rect x="348" y="323.0" width="71.1" height="3.3" fill="#e2f5fc"/>
<rect x="348" y="326.0" width="71.1" height="1.8" fill="#d8c8b8"/>
<rect x="348" y="327.5" width="71.1" height="2.8" fill="#f4fafc"/>
<rect x="348" y="330.0" width="71.1" height="5.3" fill="#eafafe"/>
<rect x="348" y="335.0" width="71.1" height="2.8" fill="#ccebfb"/>
<rect x="348" y="337.5" width="71.1" height="2.8" fill="#f1fafe"/>
<rect x="348" y="340.0" width="71.1" height="2.3" fill="#f0e0b0"/>
<rect x="348" y="342.0" width="71.1" height="2.3" fill="#f1fafe"/>
<rect x="348" y="344.0" width="71.1" height="2.3" fill="#bde5fa"/>
<rect x="348" y="346.0" width="71.1" height="2.3" fill="#f1fafe"/>
<rect x="348" y="348.0" width="71.1" height="4.3" fill="#e2f5fc"/>
<rect x="348" y="352.0" width="71.1" height="3.3" fill="#dbf2fc"/>
<rect x="348" y="355.0" width="71.1" height="4.3" fill="#fcfcf4"/>
<rect x="348" y="359.0" width="71.1" height="2.3" fill="#f1fafe"/>
<rect x="348" y="361.0" width="71.1" height="3.3" fill="#f8e8c0"/>
<rect x="348" y="364.0" width="71.1" height="2.3" fill="#f1fafe"/>
<rect x="348" y="366.0" width="71.1" height="3.3" fill="#acd4f3"/>
<rect x="348" y="369.0" width="71.1" height="2.3" fill="#cce3f3"/>
<rect x="348" y="371.0" width="71.1" height="2.3" fill="#f1fafe"/>
<rect x="348" y="373.0" width="71.1" height="2.3" fill="#a08878"/>
<rect x="348" y="375.0" width="71.1" height="4.3" fill="#fcfeff"/>
<rect x="348" y="379.0" width="71.1" height="2.3" fill="#6894e4"/>
<rect x="348" y="381.0" width="71.1" height="5.3" fill="#bde5fa"/>
<rect x="348" y="386.0" width="71.1" height="4.3" fill="#cceefc"/>
<rect x="348" y="390.0" width="71.1" height="4.3" fill="#d4f0fc"/>
<rect x="348" y="394.0" width="71.1" height="4.3" fill="#e2f6fe"/>
<rect x="348" y="398.0" width="71.1" height="4.3" fill="#eafafe"/>
<rect x="348" y="402.0" width="71.1" height="1.3" fill="#fcfeff"/>
<rect x="418.7" y="99.5" width="71.00000000000003" height="0.8" fill="#f8f8f0"/>
<rect x="418.7" y="100.0" width="71.00000000000003" height="1.8" fill="#f0b8a0"/>
<rect x="418.7" y="101.5" width="71.00000000000003" height="1.8" fill="#f4f8f8"/>
<rect x="418.7" y="103.0" width="71.00000000000003" height="1.8" fill="#a4c1e1"/>
<rect x="418.7" y="104.5" width="71.00000000000003" height="2.8" fill="#f1fafe"/>
<rect x="418.7" y="107.0" width="71.00000000000003" height="2.3" fill="#d4f0fc"/>
<rect x="418.7" y="109.0" width="71.00000000000003" height="3.3" fill="#f1fafe"/>
<rect x="418.7" y="112.0" width="71.00000000000003" height="2.3" fill="#cceaf9"/>
<rect x="418.7" y="114.0" width="71.00000000000003" height="2.3" fill="#d08070"/>
<rect x="418.7" y="116.0" width="71.00000000000003" height="2.3" fill="#f4f8f8"/>
<rect x="418.7" y="118.0" width="71.00000000000003" height="3.3" fill="#acdbf7"/>
<rect x="418.7" y="121.0" width="71.00000000000003" height="2.3" fill="#bddcf2"/>
<rect x="418.7" y="123.0" width="71.00000000000003" height="3.3" fill="#acd5f7"/>
<rect x="418.7" y="126.0" width="71.00000000000003" height="2.3" fill="#d4f0fc"/>
<rect x="418.7" y="128.0" width="71.00000000000003" height="3.3" fill="#bde5fa"/>
<rect x="418.7" y="131.0" width="71.00000000000003" height="3.3" fill="#d4f2fc"/>
<rect x="418.7" y="134.0" width="71.00000000000003" height="3.3" fill="#c5ebfb"/>
<rect x="418.7" y="137.0" width="71.00000000000003" height="4.3" fill="#9bc9f1"/>
<rect x="418.7" y="141.0" width="71.00000000000003" height="4.3" fill="#c5e8fb"/>
<rect x="418.7" y="145.0" width="71.00000000000003" height="3.3" fill="#dbf2fc"/>
<rect x="418.7" y="148.0" width="71.00000000000003" height="4.3" fill="#acd8f7"/>
<rect x="418.7" y="152.0" width="71.00000000000003" height="3.3" fill="#effafe"/>
<rect x="418.7" y="155.0" width="71.00000000000003" height="2.3" fill="#c5e8f9"/>
<rect x="418.7" y="157.0" width="71.00000000000003" height="2.3" fill="#f0ece0"/>
<rect x="418.7" y="159.0" width="71.00000000000003" height="3.3" fill="#bde1f9"/>
<rect x="418.7" y="162.0" width="71.00000000000003" height="4.3" fill="#fcfeff"/>
<rect x="418.7" y="166.0" width="71.00000000000003" height="1.8" fill="#cce3f4"/>
<rect x="418.7" y="167.5" width="71.00000000000003" height="2.8" fill="#fff4c0"/>
<rect x="418.7" y="170.0" width="71.00000000000003" height="4.3" fill="#e2f5fc"/>
<rect x="418.7" y="174.0" width="71.00000000000003" height="2.3" fill="#f0e0c8"/>
<rect x="418.7" y="176.0" width="71.00000000000003" height="2.3" fill="#fff8e8"/>
<rect x="418.7" y="178.0" width="71.00000000000003" height="1.8" fill="#cce4f6"/>
<rect x="418.7" y="179.5" width="71.00000000000003" height="2.8" fill="#d88848"/>
<rect x="418.7" y="182.0" width="71.00000000000003" height="2.3" fill="#f4f8f8"/>
<rect x="418.7" y="184.0" width="71.00000000000003" height="3.3" fill="#e0f0e8"/>
<rect x="418.7" y="187.0" width="71.00000000000003" height="1.8" fill="#f4f8f8"/>
<rect x="418.7" y="188.5" width="71.00000000000003" height="1.8" fill="#f8f0c0"/>
<rect x="418.7" y="190.0" width="71.00000000000003" height="2.3" fill="#f1fafe"/>
<rect x="418.7" y="192.0" width="71.00000000000003" height="2.3" fill="#f0d0b8"/>
<rect x="418.7" y="194.0" width="71.00000000000003" height="1.8" fill="#eef4e0"/>
<rect x="418.7" y="195.5" width="71.00000000000003" height="2.8" fill="#d8d0c0"/>
<rect x="418.7" y="198.0" width="71.00000000000003" height="2.3" fill="#bde1f9"/>
<rect x="418.7" y="200.0" width="71.00000000000003" height="1.8" fill="#89ade5"/>
<rect x="418.7" y="201.5" width="71.00000000000003" height="2.8" fill="#e2f5fc"/>
<rect x="418.7" y="204.0" width="71.00000000000003" height="2.3" fill="#f4f8f8"/>
<rect x="418.7" y="206.0" width="71.00000000000003" height="1.8" fill="#92aed7"/>
<rect x="418.7" y="207.5" width="71.00000000000003" height="2.8" fill="#e8f4e0"/>
<rect x="418.7" y="210.0" width="71.00000000000003" height="2.3" fill="#e2f5fc"/>
<rect x="418.7" y="212.0" width="71.00000000000003" height="1.8" fill="#f4f8f8"/>
<rect x="418.7" y="213.5" width="71.00000000000003" height="1.8" fill="#708bbc"/>
<rect x="418.7" y="215.0" width="71.00000000000003" height="4.3" fill="#ffe890"/>
<rect x="418.7" y="219.0" width="71.00000000000003" height="3.3" fill="#fff8e0"/>
<rect x="418.7" y="222.0" width="71.00000000000003" height="6.3" fill="#fcfeff"/>
<rect x="418.7" y="228.0" width="71.00000000000003" height="2.3" fill="#f4f8e8"/>
<rect x="418.7" y="230.0" width="71.00000000000003" height="4.3" fill="#dbf2fc"/>
<rect x="418.7" y="234.0" width="71.00000000000003" height="4.3" fill="#d4f2fb"/>
<rect x="418.7" y="238.0" width="71.00000000000003" height="5.3" fill="#ccedfb"/>
<rect x="418.7" y="243.0" width="71.00000000000003" height="5.3" fill="#c5e8f9"/>
<rect x="418.7" y="248.0" width="71.00000000000003" height="3.8" fill="#effafe"/>
<rect x="418.7" y="251.5" width="71.00000000000003" height="2.8" fill="#f8f4b0"/>
<rect x="418.7" y="254.0" width="71.00000000000003" height="2.8" fill="#f1fafe"/>
<rect x="418.7" y="256.5" width="71.00000000000003" height="3.3" fill="#bde1f9"/>
<rect x="418.7" y="259.5" width="71.00000000000003" height="1.8" fill="#f4f8f8"/>
<rect x="418.7" y="261.0" width="71.00000000000003" height="3.3" fill="#f0f0c0"/>
<rect x="418.7" y="264.0" width="71.00000000000003" height="4.3" fill="#dbf5fc"/>
<rect x="418.7" y="268.0" width="71.00000000000003" height="2.3" fill="#fcfeff"/>
<rect x="418.7" y="270.0" width="71.00000000000003" height="2.8" fill="#c5e8f9"/>
<rect x="418.7" y="272.5" width="71.00000000000003" height="2.8" fill="#f1fafe"/>
<rect x="418.7" y="275.0" width="71.00000000000003" height="2.8" fill="#acd5f7"/>
<rect x="418.7" y="277.5" width="71.00000000000003" height="2.8" fill="#f1fafe"/>
<rect x="418.7" y="280.0" width="71.00000000000003" height="3.3" fill="#e2f7fc"/>
<rect x="418.7" y="283.0" width="71.00000000000003" height="5.3" fill="#f8f8d8"/>
<rect x="418.7" y="288.0" width="71.00000000000003" height="5.3" fill="#fcfeff"/>
<rect x="418.7" y="293.0" width="71.00000000000003" height="3.3" fill="#e8b888"/>
<rect x="418.7" y="296.0" width="71.00000000000003" height="2.3" fill="#f4f8f8"/>
<rect x="418.7" y="298.0" width="71.00000000000003" height="5.3" fill="#c5e8f9"/>
<rect x="418.7" y="303.0" width="71.00000000000003" height="2.3" fill="#f4f8f8"/>
<rect x="418.7" y="305.0" width="71.00000000000003" height="2.8" fill="#e8a880"/>
<rect x="418.7" y="307.5" width="71.00000000000003" height="2.8" fill="#f4f8f8"/>
<rect x="418.7" y="310.0" width="71.00000000000003" height="2.3" fill="#effafe"/>
<rect x="418.7" y="312.0" width="71.00000000000003" height="2.3" fill="#acd7f3"/>
<rect x="418.7" y="314.0" width="71.00000000000003" height="2.3" fill="#f4f8f8"/>
<rect x="418.7" y="316.0" width="71.00000000000003" height="2.3" fill="#f0e8c0"/>
<rect x="418.7" y="318.0" width="71.00000000000003" height="2.3" fill="#f4f8f8"/>
<rect x="418.7" y="320.0" width="71.00000000000003" height="6.3" fill="#f8f4c0"/>
<rect x="418.7" y="326.0" width="71.00000000000003" height="1.8" fill="#fff4c8"/>
<rect x="418.7" y="327.5" width="71.00000000000003" height="2.3" fill="#f8d0a0"/>
<rect x="418.7" y="329.5" width="71.00000000000003" height="2.8" fill="#f8fcf8"/>
<rect x="418.7" y="332.0" width="71.00000000000003" height="2.3" fill="#f0f4d8"/>
<rect x="418.7" y="334.0" width="71.00000000000003" height="3.3" fill="#bde4f9"/>
<rect x="418.7" y="337.0" width="71.00000000000003" height="2.8" fill="#f8f0c0"/>
<rect x="418.7" y="339.5" width="71.00000000000003" height="2.8" fill="#e08050"/>
<rect x="418.7" y="342.0" width="71.00000000000003" height="5.3" fill="#effafe"/>
<rect x="418.7" y="347.0" width="71.00000000000003" height="3.3" fill="#f4f8f8"/>
<rect x="418.7" y="350.0" width="71.00000000000003" height="2.3" fill="#a4a6d8"/>
<rect x="418.7" y="352.0" width="71.00000000000003" height="2.3" fill="#f4f8f8"/>
<rect x="418.7" y="354.0" width="71.00000000000003" height="4.3" fill="#f8f8d8"/>
<rect x="418.7" y="358.0" width="71.00000000000003" height="2.3" fill="#f4f8f8"/>
<rect x="418.7" y="360.0" width="71.00000000000003" height="2.3" fill="#acd7f3"/>
<rect x="418.7" y="362.0" width="71.00000000000003" height="4.3" fill="#fcfeff"/>
<rect x="418.7" y="366.0" width="71.00000000000003" height="2.3" fill="#e8c090"/>
<rect x="418.7" y="368.0" width="71.00000000000003" height="4.3" fill="#fff0c8"/>
<rect x="418.7" y="372.0" width="71.00000000000003" height="2.3" fill="#f0d0b0"/>
<rect x="418.7" y="374.0" width="71.00000000000003" height="4.3" fill="#fcfeff"/>
<rect x="418.7" y="378.0" width="71.00000000000003" height="2.8" fill="#bde4f9"/>
<rect x="418.7" y="380.5" width="71.00000000000003" height="5.8" fill="#80b3ef"/>
<rect x="418.7" y="386.0" width="71.00000000000003" height="3.3" fill="#a4d3f7"/>
<rect x="418.7" y="389.0" width="71.00000000000003" height="4.3" fill="#80aff2"/>
<rect x="418.7" y="393.0" width="71.00000000000003" height="3.3" fill="#acd7f3"/>
<rect x="418.7" y="396.0" width="71.00000000000003" height="2.3" fill="#c5e8f9"/>
<rect x="418.7" y="398.0" width="71.00000000000003" height="2.8" fill="#dbf2fc"/>
<rect x="418.7" y="400.5" width="71.00000000000003" height="2.8" fill="#effafe"/>
<rect x="489.3" y="99.5" width="71.1" height="0.8" fill="#fff8e0"/>
<rect x="489.3" y="100.0" width="71.1" height="2.3" fill="#f8e8e0"/>
<rect x="489.3" y="102.0" width="71.1" height="3.3" fill="#f1fafe"/>
<rect x="489.3" y="105.0" width="71.1" height="1.8" fill="#bdd7f2"/>
<rect x="489.3" y="106.5" width="71.1" height="2.3" fill="#f4f8fc"/>
<rect x="489.3" y="108.5" width="71.1" height="2.8" fill="#cce4f6"/>
<rect x="489.3" y="111.0" width="71.1" height="3.3" fill="#fcfeff"/>
<rect x="489.3" y="114.0" width="71.1" height="2.3" fill="#f0d8a0"/>
<rect x="489.3" y="116.0" width="71.1" height="4.3" fill="#f1fafe"/>
<rect x="489.3" y="120.0" width="71.1" height="2.3" fill="#cce8f9"/>
<rect x="489.3" y="122.0" width="71.1" height="2.3" fill="#f4f8fc"/>
<rect x="489.3" y="124.0" width="71.1" height="4.3" fill="#e2f5fc"/>
<rect x="489.3" y="128.0" width="71.1" height="2.3" fill="#fcfeff"/>
<rect x="489.3" y="130.0" width="71.1" height="2.8" fill="#cce3f3"/>
<rect x="489.3" y="132.5" width="71.1" height="2.8" fill="#f1fafe"/>
<rect x="489.3" y="135.0" width="71.1" height="2.3" fill="#bddcf2"/>
<rect x="489.3" y="137.0" width="71.1" height="4.3" fill="#e2f8fe"/>
<rect x="489.3" y="141.0" width="71.1" height="3.3" fill="#f4f8fc"/>
<rect x="489.3" y="144.0" width="71.1" height="4.3" fill="#cceaf9"/>
<rect x="489.3" y="148.0" width="71.1" height="4.3" fill="#f0f8e0"/>
<rect x="489.3" y="152.0" width="71.1" height="2.3" fill="#e2f5fc"/>
<rect x="489.3" y="154.0" width="71.1" height="1.8" fill="#92afdc"/>
<rect x="489.3" y="155.5" width="71.1" height="2.8" fill="#f4f8fc"/>
<rect x="489.3" y="158.0" width="71.1" height="1.8" fill="#f0e8d8"/>
<rect x="489.3" y="159.5" width="71.1" height="2.8" fill="#f0a850"/>
<rect x="489.3" y="162.0" width="71.1" height="4.3" fill="#fcfeff"/>
<rect x="489.3" y="166.0" width="71.1" height="2.3" fill="#f1fafe"/>
<rect x="489.3" y="168.0" width="71.1" height="2.3" fill="#809bd3"/>
<rect x="489.3" y="170.0" width="71.1" height="4.3" fill="#b5ddf8"/>
<rect x="489.3" y="174.0" width="71.1" height="2.3" fill="#c5e8f9"/>
<rect x="489.3" y="176.0" width="71.1" height="3.3" fill="#f1fafe"/>
<rect x="489.3" y="179.0" width="71.1" height="2.3" fill="#f8c078"/>
<rect x="489.3" y="181.0" width="71.1" height="4.3" fill="#fcfeff"/>
<rect x="489.3" y="185.0" width="71.1" height="3.3" fill="#e8d8c0"/>
<rect x="489.3" y="188.0" width="71.1" height="2.3" fill="#a4c1e1"/>
<rect x="489.3" y="190.0" width="71.1" height="4.3" fill="#acdbf7"/>
<rect x="489.3" y="194.0" width="71.1" height="3.3" fill="#e8f4e0"/>
<rect x="489.3" y="197.0" width="71.1" height="3.8" fill="#f8fcf0"/>
<rect x="489.3" y="200.5" width="71.1" height="2.8" fill="#c5e8f9"/>
<rect x="489.3" y="203.0" width="71.1" height="2.3" fill="#f4f8fc"/>
<rect x="489.3" y="205.0" width="71.1" height="2.3" fill="#6884c8"/>
<rect x="489.3" y="207.0" width="71.1" height="2.3" fill="#f4f8fc"/>
<rect x="489.3" y="209.0" width="71.1" height="3.3" fill="#cceffb"/>
<rect x="489.3" y="212.0" width="71.1" height="2.3" fill="#f0f4e0"/>
<rect x="489.3" y="214.0" width="71.1" height="2.3" fill="#a4bce5"/>
<rect x="489.3" y="216.0" width="71.1" height="4.3" fill="#dbf2fc"/>
<rect x="489.3" y="220.0" width="71.1" height="3.3" fill="#bde4f9"/>
<rect x="489.3" y="223.0" width="71.1" height="5.3" fill="#fcfeff"/>
<rect x="489.3" y="228.0" width="71.1" height="4.3" fill="#f0f8e8"/>
<rect x="489.3" y="232.0" width="71.1" height="4.3" fill="#ccedfb"/>
<rect x="489.3" y="236.0" width="71.1" height="4.3" fill="#bde4f9"/>
<rect x="489.3" y="240.0" width="71.1" height="4.3" fill="#effafe"/>
<rect x="489.3" y="244.0" width="71.1" height="2.3" fill="#cce4f6"/>
<rect x="489.3" y="246.0" width="71.1" height="4.3" fill="#e2f5fc"/>
<rect x="489.3" y="250.0" width="71.1" height="2.3" fill="#cce6f6"/>
<rect x="489.3" y="252.0" width="71.1" height="3.3" fill="#effafe"/>
<rect x="489.3" y="255.0" width="71.1" height="3.3" fill="#fcfeff"/>
<rect x="489.3" y="258.0" width="71.1" height="2.8" fill="#f4f8fc"/>
<rect x="489.3" y="260.5" width="71.1" height="3.3" fill="#f0dcc8"/>
<rect x="489.3" y="263.5" width="71.1" height="2.3" fill="#d89888"/>
<rect x="489.3" y="265.5" width="71.1" height="1.3" fill="#f4f0f0"/>
<rect x="489.3" y="266.5" width="71.1" height="3.8" fill="#fcfeff"/>
<rect x="489.3" y="270.0" width="71.1" height="2.8" fill="#e2f5fc"/>
<rect x="489.3" y="272.5" width="71.1" height="3.8" fill="#cceaf9"/>
<rect x="489.3" y="276.0" width="71.1" height="4.3" fill="#effafe"/>
<rect x="489.3" y="280.0" width="71.1" height="2.3" fill="#f4f8fc"/>
<rect x="489.3" y="282.0" width="71.1" height="2.3" fill="#c8c0b0"/>
<rect x="489.3" y="284.0" width="71.1" height="2.8" fill="#c5e4f6"/>
<rect x="489.3" y="286.5" width="71.1" height="5.8" fill="#fcfeff"/>
<rect x="489.3" y="292.0" width="71.1" height="2.3" fill="#e2f5fc"/>
<rect x="489.3" y="294.0" width="71.1" height="2.3" fill="#6894de"/>
<rect x="489.3" y="296.0" width="71.1" height="4.3" fill="#f4f8fc"/>
<rect x="489.3" y="300.0" width="71.1" height="3.3" fill="#fcfeff"/>
<rect x="489.3" y="303.0" width="71.1" height="2.3" fill="#c5e4f6"/>
<rect x="489.3" y="305.0" width="71.1" height="2.3" fill="#f0e8e0"/>
<rect x="489.3" y="307.0" width="71.1" height="2.3" fill="#effafe"/>
<rect x="489.3" y="309.0" width="71.1" height="2.3" fill="#e8a870"/>
<rect x="489.3" y="311.0" width="71.1" height="3.3" fill="#fcd898"/>
<rect x="489.3" y="314.0" width="71.1" height="2.3" fill="#e89050"/>
<rect x="489.3" y="316.0" width="71.1" height="2.8" fill="#acd5f7"/>
<rect x="489.3" y="318.5" width="71.1" height="2.8" fill="#f4f8fc"/>
<rect x="489.3" y="321.0" width="71.1" height="3.3" fill="#c5e6ef"/>
<rect x="489.3" y="324.0" width="71.1" height="4.3" fill="#b5ddf8"/>
<rect x="489.3" y="328.0" width="71.1" height="3.8" fill="#effafe"/>
<rect x="489.3" y="331.5" width="71.1" height="2.3" fill="#789cde"/>
<rect x="489.3" y="333.5" width="71.1" height="3.8" fill="#f8fcfc"/>
<rect x="489.3" y="337.0" width="71.1" height="2.8" fill="#d8e4d8"/>
<rect x="489.3" y="339.5" width="71.1" height="3.8" fill="#f4f8fc"/>
<rect x="489.3" y="343.0" width="71.1" height="3.3" fill="#effafe"/>
<rect x="489.3" y="346.0" width="71.1" height="2.3" fill="#b5ddf8"/>
<rect x="489.3" y="348.0" width="71.1" height="2.3" fill="#f4f8fc"/>
<rect x="489.3" y="350.0" width="71.1" height="2.3" fill="#f0f0c0"/>
<rect x="489.3" y="352.0" width="71.1" height="4.3" fill="#acdbf7"/>
<rect x="489.3" y="356.0" width="71.1" height="4.3" fill="#effafe"/>
<rect x="489.3" y="360.0" width="71.1" height="5.3" fill="#fcfeff"/>
<rect x="489.3" y="365.0" width="71.1" height="2.3" fill="#a08090"/>
<rect x="489.3" y="367.0" width="71.1" height="2.3" fill="#f8f0f0"/>
<rect x="489.3" y="369.0" width="71.1" height="3.3" fill="#e8d8c8"/>
<rect x="489.3" y="372.0" width="71.1" height="4.3" fill="#fcfeff"/>
<rect x="489.3" y="376.0" width="71.1" height="4.3" fill="#fff8e8"/>
<rect x="489.3" y="380.0" width="71.1" height="5.3" fill="#f8a050"/>
<rect x="489.3" y="385.0" width="71.1" height="4.3" fill="#fff8e8"/>
<rect x="489.3" y="389.0" width="71.1" height="3.3" fill="#fcd090"/>
<rect x="489.3" y="392.0" width="71.1" height="3.3" fill="#f8a050"/>
<rect x="489.3" y="395.0" width="71.1" height="1.3" fill="#fff0d0"/>
<rect x="489.3" y="396.0" width="71.1" height="4.3" fill="#f07030"/>
<rect x="489.3" y="400.0" width="71.1" height="2.3" fill="#fcc888"/>
<rect x="489.3" y="402.0" width="71.1" height="1.3" fill="#fcfeff"/>
</g>
<defs><linearGradient id="cb" x1="0" y1="0" x2="0" y2="1"><stop offset="0" stop-color="#d42b1e"/><stop offset="0.05" stop-color="#d93020"/><stop offset="0.15" stop-color="#f5622e"/><stop offset="0.27" stop-color="#f9a84e"/><stop offset="0.40" stop-color="#fde48a"/><stop offset="0.50" stop-color="#ffffc8"/><stop offset="0.58" stop-color="#ffffff"/><stop offset="0.75" stop-color="#b4d6f4"/><stop offset="0.88" stop-color="#78a8e4"/><stop offset="1" stop-color="#4472c0"/></linearGradient></defs>
<rect x="565" y="99.6" width="9" height="133.7" fill="url(#cb)"/>
<text x="577.6" y="105.2" font-size="10" fill="#333">2</text>
<text x="577.6" y="138.0" font-size="10" fill="#333">1</text>
<text x="577.6" y="170.79999999999998" font-size="10" fill="#333">0</text>
<text x="577.6" y="203.59999999999997" font-size="10" fill="#333">-1</text>
<text x="577.6" y="236.39999999999998" font-size="10" fill="#333">-2</text>
<path d="M65.19999999999999,713 V567.6 H96.0 V713" fill="#fff" stroke="#000" stroke-width="2.2"/>
<rect x="71.6" y="565.3" width="18" height="2.2000000000000455" fill="#000"/>
<path d="M114.5,713 V606.3000000000001 H146.3 V713" fill="#fff" stroke="#000" stroke-width="2.2"/>
<rect x="121.4" y="603.8" width="18" height="2.400000000000091" fill="#000"/>
<path d="M164.5,713 V565.8000000000001 H196.3 V713" fill="#fff" stroke="#000" stroke-width="2.2"/>
<rect x="171.4" y="562.3" width="18" height="3.400000000000091" fill="#000"/>
<path d="M214.0,713 V572.7 H246.3 V713" fill="#fff" stroke="#000" stroke-width="2.2"/>
<rect x="221.15" y="569.3" width="18" height="3.300000000000068" fill="#000"/>
<path d="M263.5,713 V575.9 H295.79999999999995 V713" fill="#fff" stroke="#000" stroke-width="2.2"/>
<rect x="270.65" y="572.8" width="18" height="3.0" fill="#000"/>
<line x1="55.7" y1="546.3" x2="55.7" y2="714" stroke="#000" stroke-width="1.9"/>
<line x1="50.5" y1="713" x2="305.5" y2="713" stroke="#000" stroke-width="2"/>
<line x1="50.5" y1="547.2" x2="55.7" y2="547.2" stroke="#000" stroke-width="1.6"/>
<line x1="50.5" y1="580.3" x2="55.7" y2="580.3" stroke="#000" stroke-width="1.6"/>
<line x1="50.5" y1="613.5" x2="55.7" y2="613.5" stroke="#000" stroke-width="1.6"/>
<line x1="50.5" y1="646.6" x2="55.7" y2="646.6" stroke="#000" stroke-width="1.6"/>
<line x1="50.5" y1="679.8" x2="55.7" y2="679.8" stroke="#000" stroke-width="1.6"/>
<line x1="50.5" y1="713" x2="55.7" y2="713" stroke="#000" stroke-width="1.6"/>
<text x="38.3" y="551.5" text-anchor="end" font-size="11.5" font-weight="bold">10</text>
<text x="40" y="547.7" font-size="8" font-weight="bold" letter-spacing="-0.5">1 0</text>
<text x="42.8" y="584.5999999999999" text-anchor="end" font-size="11.5" font-weight="bold">10</text>
<text x="44.2" y="580.8" font-size="8" font-weight="bold">9</text>
<text x="42.8" y="617.8" text-anchor="end" font-size="11.5" font-weight="bold">10</text>
<text x="44.2" y="614.0" font-size="8" font-weight="bold">8</text>
<text x="42.8" y="650.9" text-anchor="end" font-size="11.5" font-weight="bold">10</text>
<text x="44.2" y="647.1" font-size="8" font-weight="bold">7</text>
<text x="42.8" y="684.0999999999999" text-anchor="end" font-size="11.5" font-weight="bold">10</text>
<text x="44.2" y="680.3" font-size="8" font-weight="bold">6</text>
<text x="42.8" y="717.3" text-anchor="end" font-size="11.5" font-weight="bold">10</text>
<text x="44.2" y="713.5" font-size="8" font-weight="bold">5</text>
<line x1="80.2" y1="713" x2="80.2" y2="717.5" stroke="#000" stroke-width="1.6"/>
<line x1="130.5" y1="713" x2="130.5" y2="717.5" stroke="#000" stroke-width="1.6"/>
<line x1="180" y1="713" x2="180" y2="717.5" stroke="#000" stroke-width="1.6"/>
<line x1="230.2" y1="713" x2="230.2" y2="717.5" stroke="#000" stroke-width="1.6"/>
<line x1="279.6" y1="713" x2="279.6" y2="717.5" stroke="#000" stroke-width="1.6"/>
<text x="130.9" y="603.8" text-anchor="middle" font-size="14">***</text>
<text x="280.1" y="571.6" text-anchor="middle" font-size="14">*</text>
<text transform="translate(83.2,731) rotate(-45)" text-anchor="end" font-size="12" font-weight="bold">WT</text>
<text transform="translate(133.5,731) rotate(-45)" text-anchor="end" font-size="12" font-weight="bold">ΔprrA</text>
<text transform="translate(183,731) rotate(-45)" text-anchor="end" font-size="12" font-weight="bold">ΔprrA+A</text>
<text transform="translate(233.2,731) rotate(-45)" text-anchor="end" font-size="12" font-weight="bold">ΔprrT</text>
<text transform="translate(282.6,731) rotate(-45)" text-anchor="end" font-size="12" font-weight="bold">ΔprrAΔprrT</text>
<text transform="translate(11.3,629.8) rotate(-90)" text-anchor="middle" font-size="13.6" font-weight="bold">PFU/ml</text>
<path d="M461.0,714.8 V561.4 H545.1999999999999 V714.8" fill="#fff" stroke="#000" stroke-width="2.2"/>
<line x1="503.09999999999997" y1="553.9" x2="503.09999999999997" y2="560.3" stroke="#000" stroke-width="1.6"/>
<line x1="481.09999999999997" y1="553.9" x2="525.0999999999999" y2="553.9" stroke="#000" stroke-width="2"/>
<path d="M588.8000000000001,714.8 V621.8000000000001 H671.8 V714.8" fill="#fff" stroke="#000" stroke-width="2.2"/>
<line x1="630.3" y1="617.7" x2="630.3" y2="620.7" stroke="#000" stroke-width="1.6"/>
<line x1="608.3" y1="617.7" x2="652.3" y2="617.7" stroke="#000" stroke-width="2"/>
<line x1="439.6" y1="543.3" x2="439.6" y2="715.8" stroke="#000" stroke-width="1.9"/>
<line x1="433" y1="714.8" x2="695" y2="714.8" stroke="#000" stroke-width="2"/>
<line x1="433.5" y1="714.8" x2="439.6" y2="714.8" stroke="#000" stroke-width="1.6"/>
<text x="432.6" y="720.0" text-anchor="end" font-size="12" font-weight="bold">0</text>
<line x1="433.5" y1="672.13" x2="439.6" y2="672.13" stroke="#000" stroke-width="1.6"/>
<text x="388.6" y="677.33" font-size="12" font-weight="bold">2.0<tspan font-weight="normal" font-size="12.5">×</tspan>10</text>
<text x="426" y="672.43" font-size="7.5" font-weight="bold">9</text>
<line x1="433.5" y1="629.4599999999999" x2="439.6" y2="629.4599999999999" stroke="#000" stroke-width="1.6"/>
<text x="388.6" y="634.66" font-size="12" font-weight="bold">4.0<tspan font-weight="normal" font-size="12.5">×</tspan>10</text>
<text x="426" y="629.7599999999999" font-size="7.5" font-weight="bold">9</text>
<line x1="433.5" y1="586.79" x2="439.6" y2="586.79" stroke="#000" stroke-width="1.6"/>
<text x="388.6" y="591.99" font-size="12" font-weight="bold">6.0<tspan font-weight="normal" font-size="12.5">×</tspan>10</text>
<text x="426" y="587.0899999999999" font-size="7.5" font-weight="bold">9</text>
<line x1="433.5" y1="544.1199999999999" x2="439.6" y2="544.1199999999999" stroke="#000" stroke-width="1.6"/>
<text x="388.6" y="549.3199999999999" font-size="12" font-weight="bold">8.0<tspan font-weight="normal" font-size="12.5">×</tspan>10</text>
<text x="426" y="544.4199999999998" font-size="7.5" font-weight="bold">9</text>
<line x1="503.2" y1="714.8" x2="503.2" y2="720" stroke="#000" stroke-width="1.6"/>
<line x1="630.7" y1="714.8" x2="630.7" y2="720" stroke="#000" stroke-width="1.6"/>
<text x="628.9" y="614.1" text-anchor="middle" font-size="14">**</text>
<text transform="translate(506.2,732) rotate(-45)" text-anchor="end" font-size="12.8" font-weight="bold">PA14_VEC</text>
<text transform="translate(633.7,732) rotate(-45)" text-anchor="end" font-size="12.8" font-weight="bold">PA14_prrA</text>
<text transform="translate(355.3,629) rotate(-90)" text-anchor="middle" font-size="13.6" font-weight="bold">PFU/ml</text>
</svg>
</body></html>
